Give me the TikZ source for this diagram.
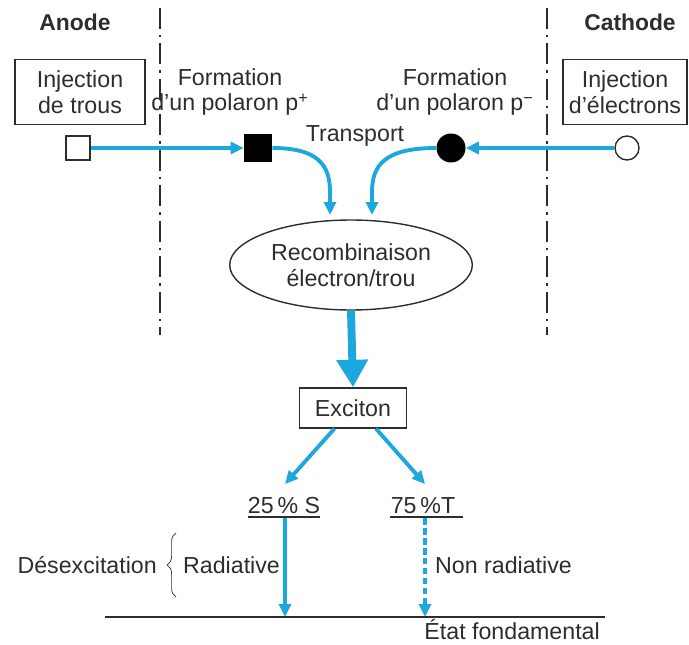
\documentclass[tikz,border=0pt]{standalone}
\usepackage{fontspec}
\setmainfont{Liberation Sans}
\usetikzlibrary{arrows.meta,shapes,positioning,decorations.pathreplacing}
\definecolor{oledblue}{RGB}{28,168,222}
\definecolor{inkgray}{RGB}{45,45,45}

\begin{document}
\begin{tikzpicture}[x=0.02cm,y=-0.02cm,
    every node/.style={text=inkgray,font=\fontsize{13.2}{14.6}\selectfont},
    box/.style={draw=inkgray,thick,align=center,minimum width=2.6cm,minimum height=1.3cm},
    flow/.style={draw=oledblue,line width=2.2pt,-{Triangle[length=0.26cm,width=0.24cm]}},
    electrode/.style={inkgray,line width=1.1pt,dash pattern=on 0.42cm off 0.12cm on 0.05cm off 0.12cm},
    level/.style={inkgray,line width=1.5pt}]
  \useasboundingbox (0,0) rectangle (689,645);

  % electrodes
  \node[font=\fontsize{13}{13}\selectfont\bfseries] (anode) at (75,22) {Anode};
  \node[font=\fontsize{13}{13}\selectfont\bfseries] (cathode) at (630,22) {Cathode};
  \draw[electrode] (160,8) -- (160,335);
  \draw[electrode] (547,8) -- (547,335);

  \node[box] (injh) at (80,92) {Injection\\de trous};
  \node[box,minimum width=2.48cm] (inje) at (625,92) {Injection\\d’électrons};
  \node[align=center] (formp) at (230,92) {Formation\\d’un polaron p\textsuperscript{+}};
  \node[align=center] (formn) at (455,92) {Formation\\d’un polaron p\textsuperscript{−}};
  \node (transp) at (355,136) {Transport};

  % charges
  \node[draw=inkgray,thick,fill=white,minimum size=0.48cm,inner sep=0pt] (hsrc) at (78,148) {};
  \node[fill=black,minimum size=0.56cm,inner sep=0pt] (hpol) at (258,148) {};
  \node[circle,fill=black,minimum size=0.58cm,inner sep=0pt] (npol) at (451,148) {};
  \node[circle,draw=inkgray,thick,fill=white,minimum size=0.48cm,inner sep=0pt] (nsrc) at (627,148) {};

  \node[ellipse,draw=inkgray,thick,align=center,minimum width=4.2cm,minimum height=1.8cm] (rec) at (351,265)
    {Recombinaison\\électron/trou};
  \node[draw=inkgray,thick,minimum width=2.14cm,minimum height=0.8cm] (exc) at (353,408) {Exciton};

  \coordinate (inL) at (330,215);
  \coordinate (inR) at (372,215);

  \draw[flow] (hsrc) -- (hpol);
  \draw[flow] (nsrc) -- (npol);
  \draw[flow] (hpol.east) .. controls (318,148) and (330,165) .. (330,192) -- (inL);
  \draw[flow] (npol.west) .. controls (385,148) and (372,165) .. (372,192) -- (inR);
  \draw[draw=oledblue,line width=4.5pt,-{Triangle[length=0.55cm,width=0.6cm]}] (rec.south) -- (exc.north);

  % niveaux
  \node (sing) at (284,506) {25\,\% S};
  \node (trip) at (423,506) {75\,\%T};
  \draw[level] (248,517) -- (320,517);
  \draw[level] (390,517) -- (463,517);
  \coordinate (topS) at (285,484);
  \coordinate (topT) at (425,484);
  \coordinate (lvS) at (285,518);
  \coordinate (lvT) at (425,518);
  \coordinate (gndS) at (285,617);
  \coordinate (gndT) at (425,617);
  \draw[flow] (exc.-132) -- (topS);
  \draw[flow] (exc.-42) -- (topT);
  \draw[flow] (lvS) -- (gndS);
  \draw[flow,dash pattern=on 0.13cm off 0.07cm] (lvT) -- (gndT);

  \draw[level] (105,617) -- (605,617);
  \node[anchor=base east] (fond) at (606,639) {État fondamental};

  \node[anchor=east] (desex) at (163,565) {Désexcitation};
  \draw[inkgray,thin,decorate,decoration={brace,amplitude=5pt}] (176,597) -- (176,533);
  \node[anchor=west] (rad) at (177,565) {Radiative};
  \node[anchor=west] (nonrad) at (429,565) {Non radiative};
\end{tikzpicture}
\end{document}
